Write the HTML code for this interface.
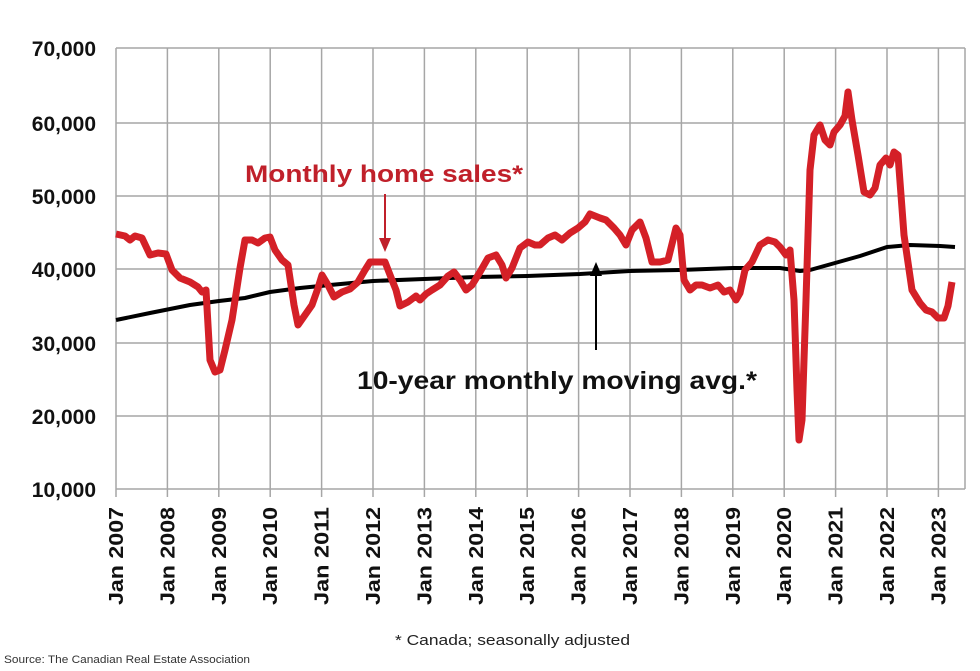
<!DOCTYPE html>
<html><head><style>body{margin:0;background:#fff}svg{display:block}</style></head><body>
<svg width="980" height="671" viewBox="0 0 980 671" xmlns="http://www.w3.org/2000/svg" font-family="Liberation Sans, sans-serif">
<g stroke="#a6a6a6" stroke-width="1.5">
<line x1="116" y1="48" x2="965" y2="48"/><line x1="116" y1="123" x2="965" y2="123"/><line x1="116" y1="196" x2="965" y2="196"/><line x1="116" y1="269" x2="965" y2="269"/><line x1="116" y1="343" x2="965" y2="343"/><line x1="116" y1="416" x2="965" y2="416"/>
<line x1="965" y1="48" x2="965" y2="489"/>
<line x1="116" y1="48" x2="116" y2="489"/>
<line x1="167.4" y1="48" x2="167.4" y2="497"/><line x1="218.8" y1="48" x2="218.8" y2="497"/><line x1="270.2" y1="48" x2="270.2" y2="497"/><line x1="321.6" y1="48" x2="321.6" y2="497"/><line x1="373" y1="48" x2="373" y2="497"/><line x1="424.4" y1="48" x2="424.4" y2="497"/><line x1="475.8" y1="48" x2="475.8" y2="497"/><line x1="527.2" y1="48" x2="527.2" y2="497"/><line x1="578.6" y1="48" x2="578.6" y2="497"/><line x1="630" y1="48" x2="630" y2="497"/><line x1="681.4" y1="48" x2="681.4" y2="497"/><line x1="732.8" y1="48" x2="732.8" y2="497"/><line x1="784.2" y1="48" x2="784.2" y2="497"/><line x1="835.6" y1="48" x2="835.6" y2="497"/><line x1="887" y1="48" x2="887" y2="497"/><line x1="938.4" y1="48" x2="938.4" y2="497"/>
<line x1="116" y1="489" x2="965" y2="489"/><line x1="116" y1="489" x2="116" y2="497"/>
</g>
<g font-weight="bold" font-size="21" text-anchor="end" fill="#111">
<text x="96" y="56">70,000</text><text x="96" y="131">60,000</text><text x="96" y="204">50,000</text><text x="96" y="277">40,000</text><text x="96" y="351">30,000</text><text x="96" y="424">20,000</text><text x="96" y="497">10,000</text>
</g>
<g font-weight="bold" font-size="20" fill="#111">
<text transform="translate(123,605) rotate(-90)" textLength="98" lengthAdjust="spacingAndGlyphs">Jan 2007</text>
<text transform="translate(174.4,605) rotate(-90)" textLength="98" lengthAdjust="spacingAndGlyphs">Jan 2008</text>
<text transform="translate(225.8,605) rotate(-90)" textLength="98" lengthAdjust="spacingAndGlyphs">Jan 2009</text>
<text transform="translate(277.2,605) rotate(-90)" textLength="98" lengthAdjust="spacingAndGlyphs">Jan 2010</text>
<text transform="translate(328.6,605) rotate(-90)" textLength="98" lengthAdjust="spacingAndGlyphs">Jan 2011</text>
<text transform="translate(380,605) rotate(-90)" textLength="98" lengthAdjust="spacingAndGlyphs">Jan 2012</text>
<text transform="translate(431.4,605) rotate(-90)" textLength="98" lengthAdjust="spacingAndGlyphs">Jan 2013</text>
<text transform="translate(482.8,605) rotate(-90)" textLength="98" lengthAdjust="spacingAndGlyphs">Jan 2014</text>
<text transform="translate(534.2,605) rotate(-90)" textLength="98" lengthAdjust="spacingAndGlyphs">Jan 2015</text>
<text transform="translate(585.6,605) rotate(-90)" textLength="98" lengthAdjust="spacingAndGlyphs">Jan 2016</text>
<text transform="translate(637,605) rotate(-90)" textLength="98" lengthAdjust="spacingAndGlyphs">Jan 2017</text>
<text transform="translate(688.4,605) rotate(-90)" textLength="98" lengthAdjust="spacingAndGlyphs">Jan 2018</text>
<text transform="translate(739.8,605) rotate(-90)" textLength="98" lengthAdjust="spacingAndGlyphs">Jan 2019</text>
<text transform="translate(791.2,605) rotate(-90)" textLength="98" lengthAdjust="spacingAndGlyphs">Jan 2020</text>
<text transform="translate(842.6,605) rotate(-90)" textLength="98" lengthAdjust="spacingAndGlyphs">Jan 2021</text>
<text transform="translate(894,605) rotate(-90)" textLength="98" lengthAdjust="spacingAndGlyphs">Jan 2022</text>
<text transform="translate(945.4,605) rotate(-90)" textLength="98" lengthAdjust="spacingAndGlyphs">Jan 2023</text>
</g>
<polyline fill="none" stroke="#000" stroke-width="4" stroke-linejoin="round" points="116,320 150,313 190,305 219,301 245,298 270,292 300,288 330,285 373,281 424,279 476,277 527,276 580,274 630,271 680,270 733,268 780,268 800,271 810,270 835,263 860,256 887,247 910,245 940,246 955,247"/>
<polyline fill="none" stroke="#d42027" stroke-width="7" stroke-linejoin="round" points="116,234 125,236 130,240 135,236 142,238 150,255 158,253 166,254 172,270 180,278 190,282 198,287 202,292 206,290 210,360 215,372 220,370 225,350 232,320 240,268 245,240 252,240 258,243 265,238 270,237 275,250 282,260 288,265 294,305 298,325 305,315 312,305 318,288 322,275 328,285 334,297 342,292 350,289 358,282 365,270 370,262 378,262 385,262 392,280 396,290 400,306 408,302 416,296 420,300 426,294 432,290 440,285 448,276 454,272 460,280 466,290 472,285 480,272 488,258 496,255 502,265 506,278 512,268 520,248 528,242 535,245 540,245 548,238 555,235 562,240 570,233 578,228 585,222 590,214 600,218 606,220 614,228 620,235 626,245 632,230 640,222 646,238 652,262 660,262 668,260 676,228 680,235 684,280 690,290 696,285 702,285 710,288 718,285 724,292 730,290 736,300 740,293 745,270 752,262 760,245 768,240 775,242 780,247 786,255 790,250 794,300 797,390 799,440 802,420 806,300 810,170 814,135 820,125 825,140 830,145 834,132 840,125 845,116 848,92 852,120 858,155 864,192 870,195 875,188 880,165 886,158 890,165 894,152 898,155 904,235 912,290 920,303 926,310 932,312 938,318 944,318 948,306 952,282"/>
<text x="245" y="182" font-weight="bold" font-size="24" fill="#c0202a" textLength="278" lengthAdjust="spacingAndGlyphs">Monthly home sales*</text>
<line x1="385" y1="194" x2="385" y2="245" stroke="#c0202a" stroke-width="2"/>
<polygon points="379,238 391,238 385,252" fill="#c0202a"/>
<text x="357" y="389" font-weight="bold" font-size="25" fill="#111" textLength="400" lengthAdjust="spacingAndGlyphs">10-year monthly moving avg.*</text>
<line x1="596" y1="350" x2="596" y2="268" stroke="#000" stroke-width="2"/>
<polygon points="590,276 602,276 596,262" fill="#000"/>
<text x="395" y="645" font-size="15" fill="#222" textLength="235" lengthAdjust="spacingAndGlyphs">* Canada; seasonally adjusted</text>
<text x="4" y="663" font-size="11" fill="#333" textLength="246" lengthAdjust="spacingAndGlyphs">Source: The Canadian Real Estate Association</text>
</svg>
</body></html>
